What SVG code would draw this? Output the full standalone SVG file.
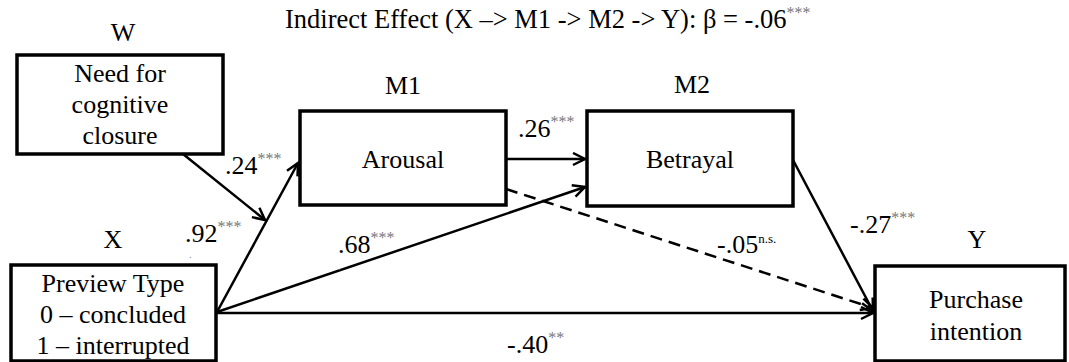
<svg xmlns="http://www.w3.org/2000/svg" width="1069" height="362" viewBox="0 0 1069 362" font-family="'Liberation Serif', 'Times New Roman', serif">
<defs>
<marker id="arr" markerUnits="userSpaceOnUse" markerWidth="16" markerHeight="16" refX="13" refY="7" orient="auto">
<path d="M1,1 L13,7 L1,13" fill="none" stroke="#000" stroke-width="2.5"/>
</marker>
<style>
text{font-family:'Liberation Serif','Times New Roman',serif;font-size:26px;fill:#000}
.c{text-anchor:middle}
.t{font-size:26.5px}
.box{fill:#fff;stroke:#000;stroke-width:3.5}
.ln{fill:none;stroke:#000;stroke-width:2.5}
.dash{stroke-dasharray:12 7}
.st{font-size:16px;fill:#777}
.ns{font-size:13px;fill:#000}
.dot{font-size:10px;fill:#777}
</style>
</defs>
<text class="t" x="285" y="28">Indirect Effect (X –&gt; M1 -&gt; M2 -&gt; Y): β = -.06<tspan class="st" dy="-10">***</tspan></text>
<g id="connectors">
<line class="ln" x1="217" y1="312" x2="298" y2="163" marker-end="url(#arr)"/>
<line class="ln" x1="183" y1="154" x2="265" y2="220" marker-end="url(#arr)"/>
<line class="ln" x1="217" y1="312" x2="585" y2="187" marker-end="url(#arr)"/>
<line class="ln" x1="217" y1="313" x2="873" y2="313" marker-end="url(#arr)"/>
<line class="ln" x1="506" y1="159" x2="585" y2="159" marker-end="url(#arr)"/>
<line class="ln dash" x1="506" y1="189" x2="873" y2="308" marker-end="url(#arr)"/>
<line class="ln" x1="793" y1="160" x2="873" y2="311" marker-end="url(#arr)"/>
<text x="225" y="174">.24<tspan class="st" dy="-10">***</tspan></text>
<text x="185" y="242">.92<tspan class="st" dy="-10">***</tspan></text>
<text class="dot" x="189" y="258">.</text>
<text x="338" y="253">.68<tspan class="st" dy="-10">***</tspan></text>
<text class="dot" x="338" y="270">.</text>
<text x="518" y="137">.26<tspan class="st" dy="-10">***</tspan></text>
<text x="717" y="253">-.05<tspan class="ns" dy="-10">n.s.</tspan></text>
<text x="850" y="233">-.27<tspan class="st" dy="-10">***</tspan></text>
<text x="507" y="353">-.40<tspan class="st" dy="-10">**</tspan></text>
</g>
<g id="W">
<text class="c" x="123" y="41">W</text>
<rect class="box" x="17" y="55" width="206" height="99"/>
<text class="c" x="120" y="82">Need for</text>
<text class="c" x="120" y="113">cognitive</text>
<text class="c" x="120" y="144">closure</text>
</g>
<g id="X">
<text class="c" x="113" y="248">X</text>
<rect class="box" x="11" y="265" width="205" height="96"/>
<text class="c" x="113" y="292">Preview Type</text>
<text class="c" x="113" y="323">0 – concluded</text>
<text class="c" x="113" y="354">1 – interrupted</text>
</g>
<g id="M1">
<text class="c" x="403" y="94">M1</text>
<rect class="box" x="300" y="111" width="206" height="94"/>
<text class="c" x="403" y="168">Arousal</text>
</g>
<g id="M2">
<text class="c" x="692" y="93">M2</text>
<rect class="box" x="587" y="111" width="206" height="95"/>
<text class="c" x="690" y="168">Betrayal</text>
</g>
<g id="Y">
<text class="c" x="977" y="248">Y</text>
<rect class="box" x="875" y="266" width="190" height="95"/>
<text class="c" x="976" y="308">Purchase</text>
<text class="c" x="976" y="340">intention</text>
</g>
</svg>
